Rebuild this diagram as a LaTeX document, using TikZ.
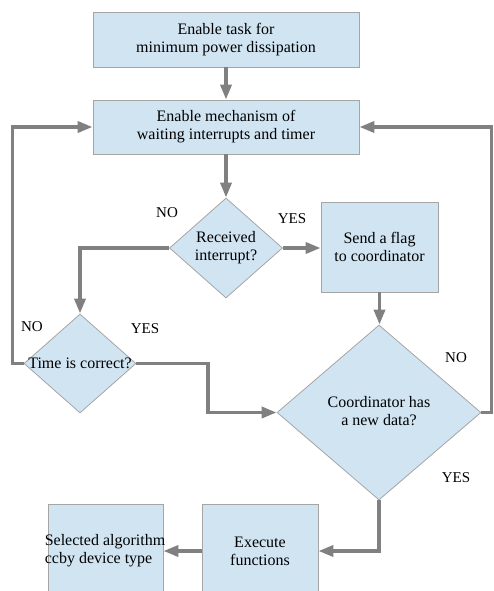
\documentclass[tikz,border=0pt]{standalone}
\usepackage{fontspec}
\setmainfont{Liberation Serif}
\usetikzlibrary{shapes.geometric,arrows.meta}
\definecolor{boxfill}{RGB}{208,228,242}
\definecolor{boxline}{RGB}{165,165,165}
\definecolor{arrowgray}{RGB}{128,128,128}
\begin{document}
\begin{tikzpicture}[x=1pt,y=-1pt,
  every node/.style={font=\fontsize{16}{18}\selectfont},
  box/.style={draw=boxline, line width=0.8pt, fill=boxfill, rectangle, inner sep=0pt, align=center},
  dia/.style={draw=boxline, line width=0.8pt, fill=boxfill, diamond, inner sep=0pt},
  lab/.style={font=\fontsize{15}{17}\selectfont, inner sep=0pt},
  conn/.style={draw=arrowgray, line width=3.5pt, -{Triangle[length=15pt,width=11pt]}}
]
\useasboundingbox (0,0) rectangle (493,591);
\clip (0,0) rectangle (493,591);

\node[box, minimum width=266pt, minimum height=55pt] (b1) at (226,39.5) {Enable task for\\minimum power dissipation};
\node[box, minimum width=266pt, minimum height=54pt] (b2) at (226,127) {Enable mechanism of\\waiting interrupts and timer};
\node[dia, minimum width=113pt, minimum height=100pt] (d1) at (226,248) {\makebox[0pt]{\begin{tabular}{@{}c@{}}Received\\interrupt?\end{tabular}}};
\node[box, minimum width=117pt, minimum height=90pt] (b3) at (379.5,247) {Send a flag\\to coordinator};
\node[dia, minimum width=112pt, minimum height=99pt] (d2) at (80,363.5) {\makebox[0pt]{Time is correct?}};
\node[dia, minimum width=204pt, minimum height=175pt] (d3) at (379,412.5) {\makebox[0pt]{\begin{tabular}{@{}c@{}}Coordinator has\\a new data?\end{tabular}}};
\node[box, minimum width=116pt, minimum height=94pt] (b4) at (260,551) {Execute\\functions};
\node[box, minimum width=115pt, minimum height=94pt,
  label={[anchor=west, inner sep=0pt, align=left, xshift=-3pt, font=\fontsize{16}{18}\selectfont]west:Selected algorithm\\ccby device type}] (b5) at (105.5,551) {};

\coordinate (kx) at (208,0);
\coordinate (lx) at (12.5,0);
\coordinate (rx) at (491.5,0);

\draw[conn] (b1) -- (b2);
\draw[conn] (b2) -- (d1);
\draw[conn] (d1.east) -- (d1.east -| b3.west);
\draw[conn] (d1.west) -| (d2.north);
\draw[conn] (b3.south) -- (b3.south |- d3.north);
\draw[conn] (d2.east) -| (kx |- d3.west) -- (d3.west);
\draw[conn] (d2.west) -| (lx |- b2.west) -- (b2.west);
\draw[conn] (d3.east) -| (rx |- b2.east) -- (b2.east);
\draw[conn] (d3.south) |- (b4.east);
\draw[conn] (b4.west) -- (b5.east);

\node[lab] (n1) at (167,213) {NO};
\node[lab] (y1) at (292,219) {YES};
\node[lab] (n2) at (32,327) {NO};
\node[lab] (y2) at (145,329) {YES};
\node[lab] (n3) at (456,358) {NO};
\node[lab] (y3) at (456,478) {YES};
\end{tikzpicture}
\end{document}
